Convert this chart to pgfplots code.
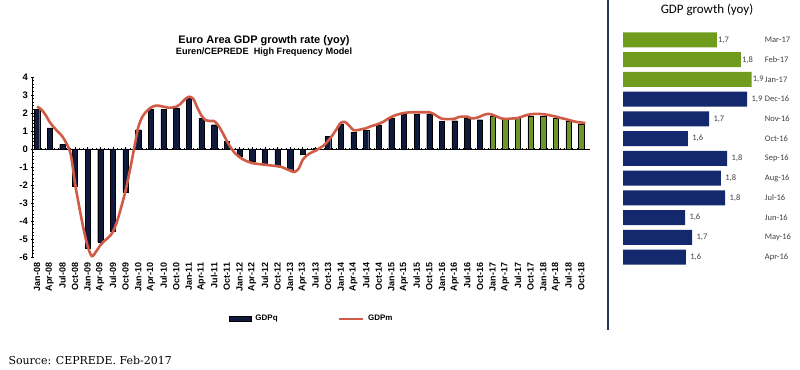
\documentclass[border=0pt]{standalone}
\usepackage{pgfplots}
\pgfplotsset{compat=1.18}
\usepackage{pgfplotstable}
\usepackage{fontspec}
\setmainfont{Liberation Sans}
\newfontfamily\calib{Carlito}
\newfontfamily\srcfont{DejaVu Serif}
\definecolor{navyL}{RGB}{15,26,60}
\definecolor{greenL}{RGB}{110,150,40}
\definecolor{navyR}{RGB}{20,40,110}
\definecolor{greenR}{RGB}{112,156,30}
\definecolor{redL}{RGB}{208,92,72}
\definecolor{sepline}{RGB}{42,50,88}

\pgfplotstableread{
m v
0 2.2
3 1.17
6 0.25
9 -2.07
12 -5.5
15 -5.19
18 -4.57
21 -2.4
24 1.07
27 2.19
30 2.2
33 2.28
36 2.83
39 1.72
42 1.35
45 0.43
48 -0.4
51 -0.69
54 -0.83
57 -0.93
60 -1.15
63 -0.28
66 0.05
69 0.72
72 1.4
75 0.93
78 1.05
81 1.35
84 1.7
87 1.94
90 1.94
93 1.94
96 1.55
99 1.57
102 1.7
105 1.63
}\histq

\pgfplotstableread{
m v
108 1.8
111 1.64
114 1.7
117 1.85
120 1.8
123 1.72
126 1.57
129 1.4
}\foreq

\pgfplotstableread{
m v
0 2.35
1 2.2
2 1.9
3 1.5
4 1.2
5 0.95
6 0.7
7 0.3
8 -0.3
9 -1.9
10 -3.2
11 -4.4
12 -5.4
13 -5.95
14 -5.7
15 -5.35
16 -5.1
17 -4.9
18 -4.6
19 -4.0
20 -3.2
21 -2.3
22 -1.2
23 0.0
24 1.2
25 1.8
26 2.1
27 2.3
28 2.4
29 2.4
30 2.35
31 2.3
32 2.3
33 2.35
34 2.5
35 2.75
36 2.9
37 2.8
38 2.3
39 1.85
40 1.6
41 1.55
42 1.55
43 1.3
44 0.9
45 0.45
46 0.05
47 -0.25
48 -0.45
49 -0.6
50 -0.7
51 -0.78
52 -0.82
53 -0.85
54 -0.87
55 -0.9
56 -0.93
57 -0.96
58 -1.0
59 -1.1
60 -1.2
61 -1.28
62 -1.1
63 -0.6
64 -0.35
65 -0.2
66 -0.1
67 0.05
68 0.2
69 0.45
70 0.75
71 1.1
72 1.45
73 1.5
74 1.3
75 1.05
76 1.05
77 1.1
78 1.15
79 1.25
80 1.32
81 1.4
82 1.5
83 1.65
84 1.78
85 1.88
86 1.95
87 2.0
88 2.03
89 2.04
90 2.04
91 2.04
92 2.04
93 2.04
94 1.95
95 1.8
96 1.68
97 1.66
98 1.66
99 1.68
100 1.78
101 1.8
102 1.8
103 1.7
104 1.72
105 1.8
106 1.9
107 1.95
108 1.9
109 1.8
110 1.7
111 1.67
112 1.68
113 1.7
114 1.72
115 1.8
116 1.88
117 1.93
118 1.95
119 1.95
120 1.93
121 1.9
122 1.85
123 1.8
124 1.73
125 1.68
126 1.62
127 1.55
128 1.5
129 1.47
130 1.44
}\monthly

\pgfplotstableread{
y v lab
0 1.586 {1,6}
1 1.614 {1,7}
2 1.582 {1,6}
3 1.764 {1,8}
4 1.745 {1,8}
5 1.773 {1,8}
6 1.595 {1,6}
7 1.691 {1,7}
8 1.864 {1,9}
}\rnavy

\pgfplotstableread{
y v lab
9 1.885 {1,9}
10 1.836 {1,8}
11 1.727 {1,7}
}\rgreen

\begin{document}
\begin{tikzpicture}[x=1bp,y=1bp]
\path (0,0) rectangle (800,369);

\begin{axis}[
  at={(32.8bp,112bp)}, anchor=south west,
  scale only axis, width=556.8bp, height=180bp,
  xmin=-1, xmax=131, ymin=-6, ymax=4,
  axis x line=middle, axis y line=left,
  axis line style={-, black, line width=0.8pt},
  xtick={0,3,...,129},
  xticklabels={Jan-08,Apr-08,Jul-08,Oct-08,Jan-09,Apr-09,Jul-09,Oct-09,Jan-10,Apr-10,Jul-10,Oct-10,Jan-11,Apr-11,Jul-11,Oct-11,Jan-12,Apr-12,Jul-12,Oct-12,Jan-13,Apr-13,Jul-13,Oct-13,Jan-14,Apr-14,Jul-14,Oct-14,Jan-15,Apr-15,Jul-15,Oct-15,Jan-16,Apr-16,Jul-16,Oct-16,Jan-17,Apr-17,Jul-17,Oct-17,Jan-18,Apr-18,Jul-18,Oct-18},
  minor x tick num=2,
  xticklabel style={yshift=-111bp, rotate=90, anchor=east, font=\bfseries\fontsize{9}{10}\selectfont, inner sep=1pt},
  ytick={-6,...,4},
  minor y tick num=4,
  yticklabel style={font=\bfseries\fontsize{9.5}{10}\selectfont},
  /pgf/number format/assume math mode=true,
  major tick length=3bp, minor tick length=2bp,
  tick style={black, line width=0.6pt},
  clip=false,
  legend style={at={(0.347,-0.344)}, anchor=west, draw=none, fill=none,
    font=\bfseries\fontsize{8}{9}\selectfont, legend columns=2,
    /tikz/every odd column/.append style={column sep=2bp},
    /tikz/every even column/.append style={column sep=58bp}},
]
\addplot[ybar, bar shift=0pt, bar width=1.25, fill=navyL, draw=black, line width=0.3pt,
  legend image code/.code={\draw[fill=navyL,draw=black] (0bp,-2.5bp) rectangle (22bp,2.5bp);}]
  table[x=m,y=v]{\histq};
\addlegendentry{GDPq}
\addplot[ybar, bar shift=0pt, bar width=1.25, fill=greenL, draw=black, line width=0.3pt, forget plot]
  table[x=m,y=v]{\foreq};
\addplot[redL, line width=2.6bp, smooth, tension=0.5, no marks,
  legend image code/.code={\draw[redL, line width=2.6bp] (0bp,0bp) -- (24bp,0bp);}]
  table[x=m,y=v]{\monthly};
\addlegendentry{GDPm}
\end{axis}

\node[font=\bfseries\fontsize{11}{12}\selectfont] at (264,328) {Euro Area GDP growth rate (yoy)};
\node[font=\bfseries\fontsize{9.2}{10}\selectfont] at (264,317) {Euren/CEPREDE\ \ High Frequency Model};

\node[anchor=west, font=\srcfont\fontsize{11}{12}\selectfont] at (5,9) {Source: CEPREDE. Feb-2017};

\draw[sepline, line width=1.8bp] (608,369) -- (608,39);

\node[font=\calib\fontsize{13}{14}\selectfont] at (707,359) {GDP growth (yoy)};

\begin{axis}[
  at={(623bp,102.1bp)}, anchor=south west,
  scale only axis, width=136.4bp, height=236.8bp,
  xmin=1.3, xmax=1.92, ymin=-0.5, ymax=11.5,
  axis line style={draw=none},
  xtick=\empty,
  ytick={0,...,11},
  yticklabels={Apr-16,May-16,Jun-16,Jul-16,Aug-16,Sep-16,Oct-16,Nov-16,Dec-16,Jan-17,Feb-17,Mar-17},
  yticklabel pos=right,
  yticklabel style={anchor=west, xshift=2bp, font=\calib\fontsize{8.5}{9}\selectfont, text=black!75},
  major tick length=0pt,
  clip=false,
]
\addplot[xbar, bar shift=0pt, bar width=0.76, fill=navyR, draw=none,
  nodes near coords, point meta=explicit symbolic,
  every node near coord/.append style={font=\calib\fontsize{8.5}{9}\selectfont, text=black!75, anchor=west, xshift=1bp}]
  table[x=v,y=y,meta=lab]{\rnavy};
\addplot[xbar, bar shift=0pt, bar width=0.76, fill=greenR, draw=none,
  nodes near coords, point meta=explicit symbolic,
  every node near coord/.append style={font=\calib\fontsize{8.5}{9}\selectfont, text=black!75, anchor=west, xshift=0bp, inner sep=1pt}]
  table[x=v,y=y,meta=lab]{\rgreen};
\end{axis}
\pgfresetboundingbox
\path[use as bounding box] (0,0) rectangle (800,369);
\end{tikzpicture}
\end{document}
